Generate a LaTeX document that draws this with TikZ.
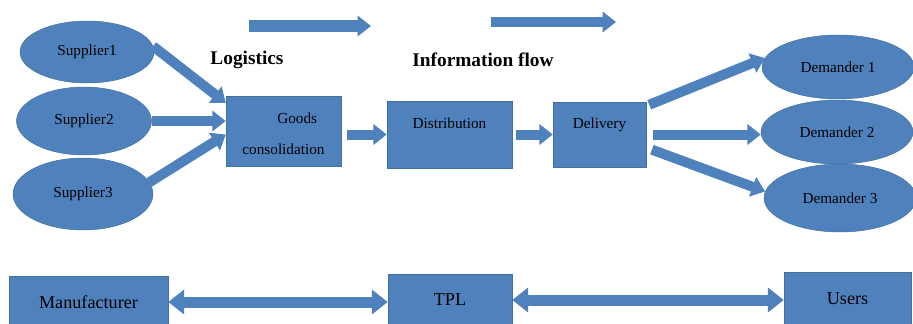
\documentclass[tikz,border=0pt]{standalone}
\usepackage{fontspec}
\setmainfont{Liberation Serif}
\usetikzlibrary{shapes.geometric,arrows.meta,positioning,calc}
\definecolor{boxblue}{HTML}{4F81BD}
\definecolor{lineblue}{HTML}{41719C}

\begin{document}
\begin{tikzpicture}[x=0.03cm,y=-0.03cm,
  party/.style={ellipse,draw=lineblue,fill=boxblue,inner sep=0pt,font=\fontsize{13}{15}\selectfont},
  stage/.style={rectangle,draw=lineblue,fill=boxblue,inner sep=0pt,font=\fontsize{13}{15}\selectfont},
  actor/.style={stage,font=\fontsize{15.5}{17}\selectfont},
  heading/.style={font=\bfseries\fontsize{16.5}{18}\selectfont},
  flow/.style={draw=boxblue,line width=0.3cm,-{Triangle[width=0.6cm,length=0.4cm]}},
  link/.style={draw=boxblue,line width=0.33cm,{Triangle[width=0.72cm,length=0.48cm]}-{Triangle[width=0.72cm,length=0.48cm]}}]
\useasboundingbox (0,0) rectangle (913,323);

% suppliers and demanders
\node[party,minimum width=4.02cm,minimum height=1.86cm] (sup1) at (87,52) {Supplier1};
\node[party,minimum width=4.05cm,minimum height=2.04cm] (sup2) at (84,121) {Supplier2};
\node[party,minimum width=4.2cm,minimum height=2.16cm] (sup3) at (83,194) {Supplier3};
\node[party,minimum width=4.56cm,minimum height=1.92cm] (dem1) at (838,67) {Demander 1};
\node[party,minimum width=4.56cm,minimum height=1.92cm] (dem2) at (837,132) {Demander 2};
\node[party,minimum width=4.56cm,minimum height=2.04cm] (dem3) at (840,198) {Demander 3};

% stages
\node[stage,minimum width=3.45cm,minimum height=2.1cm,align=center,text height=40pt] (goods) at (283.5,131) {\hspace*{1.8em}Goods\\[11pt]consolidation};
\node[stage,minimum width=3.75cm,minimum height=2.01cm,text depth=19pt] (dist) at (449.5,134.5) {Distribution};
\node[stage,minimum width=2.79cm,minimum height=1.95cm,text depth=19pt] (deliv) at (599.5,134.5) {Delivery};

% bottom row
\node[actor,minimum width=4.77cm,minimum height=1.56cm] (mf) at (88.5,302) {Manufacturer};
\node[actor,minimum width=3.72cm,minimum height=1.56cm] (tpl) at (450,300) {TPL};
\node[actor,minimum width=3.81cm,minimum height=1.62cm] (users) at (847.5,299) {Users};

% legend
\coordinate (lg1) at (249,26);
\coordinate (lg2) at (371,26);
\coordinate (if1) at (491,22);
\coordinate (if2) at (616,22);
\draw[flow,line width=0.36cm] (lg1) -- (lg2);
\draw[flow] (if1) -- (if2);
\node[heading] (logi) at (247,60) {Logistics};
\node[heading] (info) at (483,60) {Information flow};

\draw[flow] (sup1.5) -- ($(goods.north west)!0.1!(goods.south west)$);
\draw[flow] (sup2.east) -- (sup2.east -| goods.west);
\draw[flow] (sup3.10) -- ($(goods.north west)!0.55!(goods.south west)$);
\draw[flow,shorten <=0.18cm] (dist.west -| goods.east) -- (dist.west);
\draw[flow,shorten <=0.12cm] (deliv.west -| dist.east) -- (deliv.west);
\draw[flow] ($(deliv.north east)+(3,3)$) -- (dem1.173);
\draw[flow,shorten <=0.2cm] (deliv.east) -- (deliv.east -| dem2.west);
\draw[flow,shorten <=0.18cm] ($(deliv.north east)!0.7!(deliv.south east)$) -- (dem3.175);

\draw[link] (mf.east) -- (mf.east -| tpl.west);
\draw[link] (tpl.east) -- (tpl.east -| users.west);
\end{tikzpicture}
\end{document}
